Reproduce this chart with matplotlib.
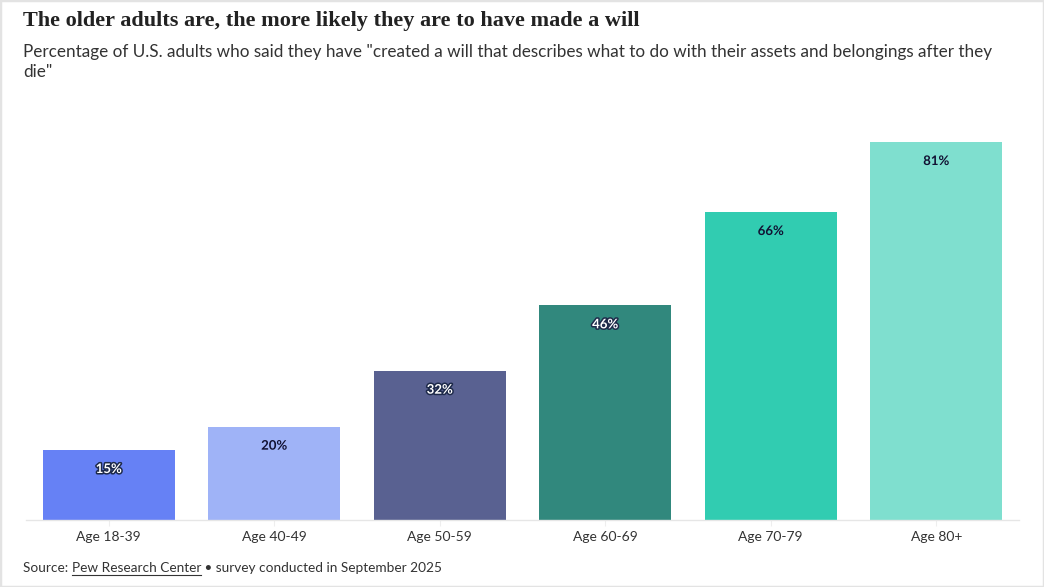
import matplotlib.pyplot as plt
import matplotlib.patheffects as pe
from matplotlib.patches import Rectangle

# data
age_groups = ["Age 18-39", "Age 40-49", "Age 50-59", "Age 60-69", "Age 70-79", "Age 80+"]
pct_with_will = [15, 20, 32, 46, 66, 81]
bar_colors = ["#6681f5", "#9fb3f7", "#596191", "#31887d", "#31ccb1", "#7fdfcf"]
dark_bars = [True, False, True, True, False, False]

fig = plt.figure(figsize=(10.44, 5.87), dpi=100)
fig.patch.set_facecolor("white")

ax = fig.add_axes([26 / 1044, 1 - 520 / 587, (1019 - 26) / 1044, (520 - 142) / 587])
x = range(len(age_groups))
bars = ax.bar(x, pct_with_will, width=0.8, color=bar_colors)
ax.set_xlim(-0.5, len(age_groups) - 0.5)
ax.set_ylim(0, max(pct_with_will))

for spine in ["top", "right", "left"]:
    ax.spines[spine].set_visible(False)
ax.spines["bottom"].set_color("#e6e6e6")
ax.spines["bottom"].set_linewidth(1)
ax.set_yticks([])
ax.set_xticks(list(x))
ax.set_xticklabels(age_groups, fontsize=10, family="Lato", color="#333333")
ax.tick_params(axis="x", length=4, color="#eeeeee", pad=4)

# value labels inside the bar tops
for bar, val, dark in zip(bars, pct_with_will, dark_bars):
    if dark:
        txt_color, halo = "white", "#1e2a4a"
    else:
        txt_color, halo = "#111133", bar.get_facecolor()
    t = ax.annotate(f"{val}%", (bar.get_x() + bar.get_width() / 2, val),
                    xytext=(0, -19), textcoords="offset pixels",
                    ha="center", va="center", fontsize=9.5, fontweight="bold",
                    family="Lato", color=txt_color)
    t.set_path_effects([pe.withStroke(linewidth=2.2, foreground=halo)])

# header text
fig.text(23 / 1044, 1 - 21 / 587, "The older adults are, the more likely they are to have made a will",
         fontsize=16, fontweight="bold", family="Liberation Serif", color="#222222",
         va="center", ha="left")
fig.text(23 / 1044, 1 - 52 / 587,
         'Percentage of U.S. adults who said they have "created a will that describes what to do with their assets and belongings after they',
         fontsize=12.3, family="Lato", color="#333333", va="center", ha="left")
fig.text(23 / 1044, 1 - 72 / 587, 'die"',
         fontsize=12.3, family="Lato", color="#333333", va="center", ha="left")

# footer
src1 = fig.text(23 / 1044, 1 - 568 / 587, "Source: ", fontsize=9.85, family="Lato",
                color="#333333", va="center", ha="left")
fig.canvas.draw()
r = fig.canvas.get_renderer()
bb = src1.get_window_extent(r)
src2 = fig.text(bb.x1 / 1044, 1 - 568 / 587, "Pew Research Center", fontsize=9.85,
                family="Lato", color="#333333", va="center", ha="left")
bb2 = src2.get_window_extent(r)
fig.add_artist(plt.Line2D([bb2.x0 / 1044, bb2.x1 / 1044],
                          [(bb2.y0 - 1) / 587, (bb2.y0 - 1) / 587],
                          color="#333333", lw=0.8))
fig.text(bb2.x1 / 1044, 1 - 568 / 587, " \u2022 survey conducted in September 2025",
         fontsize=9.85, family="Lato", color="#333333", va="center", ha="left")

# light frame around the whole chart
fig.add_artist(Rectangle((0, 0), 1, 1, transform=fig.transFigure, fill=False,
                         edgecolor="#e3e3e3", lw=2.5))

fig.savefig("out.png", dpi=100)
